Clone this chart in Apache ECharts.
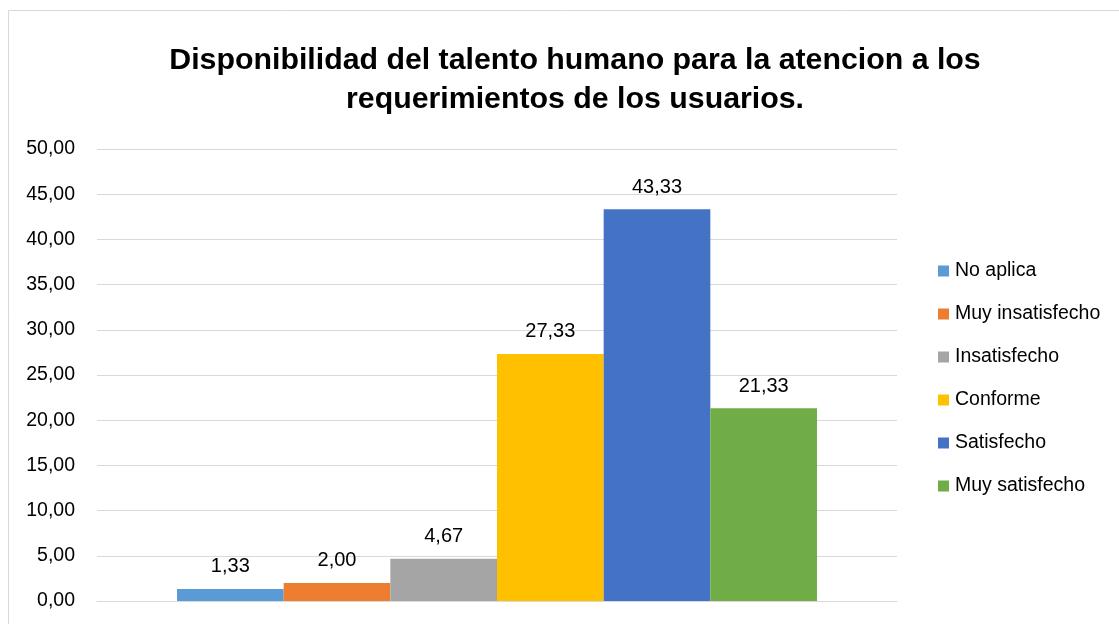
<!DOCTYPE html>
<html>
<head>
<meta charset="utf-8">
<script src="https://cdn.jsdelivr.net/npm/echarts@6/dist/echarts.min.js"></script>
<style>
  html, body { margin: 0; padding: 0; background: #fff; }
  #main { width: 1119px; height: 624px; }
</style>
</head>
<body>
<div id="main"></div>
<script>
// datos del gráfico
var categories = [''];
var seriesNames = ['No aplica', 'Muy insatisfecho', 'Insatisfecho', 'Conforme', 'Satisfecho', 'Muy satisfecho'];
var seriesValues = [1.33, 2.00, 4.67, 27.33, 43.33, 21.33];
var seriesColors = ['#5B9BD5', '#ED7D31', '#A5A5A5', '#FFC000', '#4472C4', '#70AD47'];
var yTicks = { min: 0, max: 50, interval: 5 };

var FONT = '"Liberation Sans Narrow", "Liberation Sans", Arial, sans-serif';

function fmt(v) {
    return Number(v).toFixed(2).replace('.', ',');
}

var chartDom = document.getElementById('main');
var myChart = echarts.init(chartDom, null, { renderer: 'canvas' });

var series = seriesNames.map(function (name, i) {
    return {
        name: name,
        type: 'bar',
        barGap: '0%',
        barCategoryGap: '20%',
        itemStyle: { color: seriesColors[i] },
        label: {
            show: true,
            position: 'top',
            distance: 12,
            color: '#000',
            fontFamily: FONT,
            fontSize: 20,
            formatter: function (p) { return fmt(p.value); }
        },
        data: [seriesValues[i]]
    };
});

var option = {
    backgroundColor: '#fff',
    animation: false,
    title: {
        text: 'Disponibilidad del talento humano para la atencion a los\nrequerimientos de los usuarios.',
        left: 570,
        top: 36,
        textAlign: 'center',
        textStyle: {
            color: '#000',
            fontFamily: FONT,
            fontSize: 30.3,
            fontWeight: 'bold',
            lineHeight: 39
        }
    },
    legend: {
        orient: 'vertical',
        left: 938,
        top: 261,
        padding: 0,
        itemWidth: 11,
        itemHeight: 11,
        itemGap: 23,
        icon: 'rect',
        textStyle: {
            color: '#000',
            fontFamily: FONT,
            fontSize: 19.5,
            lineHeight: 20,
            padding: [0, 0, 0, 1]
        },
        data: seriesNames
    },
    grid: {
        left: 97,
        right: 222,
        top: 149,
        bottom: 23,
        containLabel: false
    },
    xAxis: {
        type: 'category',
        data: categories,
        axisTick: { show: false },
        axisLabel: { show: false },
        axisLine: { lineStyle: { color: '#d9d9d9', width: 1 } }
    },
    yAxis: {
        type: 'value',
        min: yTicks.min,
        max: yTicks.max,
        interval: yTicks.interval,
        axisLine: { show: false },
        axisTick: { show: false },
        axisLabel: {
            margin: 22,
            color: '#000',
            fontFamily: FONT,
            fontSize: 19.5,
            formatter: fmt
        },
        splitLine: { lineStyle: { color: '#d9d9d9', width: 1 } }
    },
    graphic: [{
        type: 'rect',
        shape: { x: 8.5, y: 10.5, width: 1300, height: 800 },
        style: { fill: 'none', stroke: '#d9d9d9', lineWidth: 1 },
        silent: true,
        z: -1
    }],
    series: series
};

option && myChart.setOption(option);
</script>
</body>
</html>
